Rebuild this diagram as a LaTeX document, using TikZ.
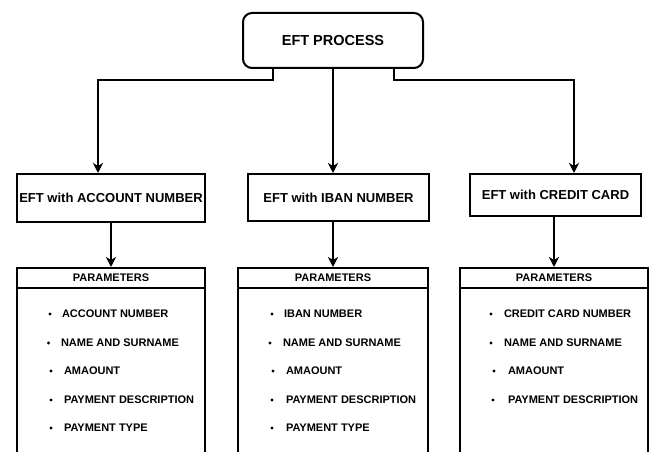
\documentclass[tikz,border=0pt]{standalone}
\usepackage{fontspec}
\setmainfont{Liberation Sans}
\usetikzlibrary{arrows.meta}
\begin{document}
\begin{tikzpicture}[x=1pt,y=-1pt,line width=2pt,
  box/.style={draw,rectangle,inner sep=0pt,anchor=north west,font=\bfseries\fontsize{13}{15}\selectfont},
  topbox/.style={box,rounded corners=9pt,font=\bfseries\fontsize{14.5}{17}\selectfont},
  pbox/.style={draw,rectangle,inner sep=0pt,anchor=north west,minimum height=250pt},
  arr/.style={-{Stealth[length=10pt,width=10pt,inset=3pt]}},
  item/.style={anchor=west,inner sep=0pt,font=\bfseries\fontsize{11}{13}\selectfont},
  phead/.style={inner sep=0pt,font=\bfseries\fontsize{11}{13}\selectfont},
  bul/.style={fill=black}]
\useasboundingbox (0,0) rectangle (649,452);
\clip (0,0) rectangle (649,452);
% top
\node[topbox,minimum width=180pt,minimum height=55pt] (top) at (242,12) {EFT PROCESS};
% middle boxes
\node[box,minimum width=188pt,minimum height=48pt] (m1) at (16,173) {EFT with ACCOUNT NUMBER};
\node[box,minimum width=181pt,minimum height=47pt] (m2) at (247,173) {EFT with IBAN NUMBER};
\node[box,minimum width=171pt,minimum height=42pt] (m3) at (469,173) {EFT with CREDIT CARD};
% parameter boxes
\node[pbox,minimum width=188pt] (p1) at (16,267) {};
\node[pbox,minimum width=190pt] (p2) at (237,267) {};
\node[pbox,minimum width=188pt] (p3) at (459,267) {};
\foreach \p in {p1,p2,p3}{
  \draw ([yshift=-21pt]\p.north west) -- ([yshift=-21pt]\p.north east);
  \node[phead] (h\p) at ([yshift=-10.5pt]\p.north) {PARAMETERS};
}
% connectors from top
\draw[arr] ([xshift=-60pt]top.south) -- ++(0,11) -| ([xshift=-13pt]m1.north);
\draw[arr] (top.south) -- (top.south |- m2.north);
\draw[arr] ([xshift=61pt]top.south) -- ++(0,11) -| ([xshift=18.5pt]m3.north);
% connectors to parameter boxes
\draw[arr] (m1.south -| p1.north) -- (p1.north);
\draw[arr] (m2.south -| p2.north) -- (p2.north);
\draw[arr] (m3.south -| p3.north) -- (p3.north);
% items column 1
\node[item] (a1) at (61,314) {ACCOUNT NUMBER};
\node[item] (a2) at (60,343) {NAME AND SURNAME};
\node[item] (a3) at (63,371) {AMAOUNT};
\node[item] (a4) at (63,400) {PAYMENT DESCRIPTION};
\node[item] (a5) at (63,428) {PAYMENT TYPE};
\foreach \n/\x in {a1/50,a2/48.5,a3/51,a4/51,a5/51}{\fill[bul] (\x,0 |- \n.west) circle (1.6pt);}
% items column 2
\node[item] (b1) at (283,314) {IBAN NUMBER};
\node[item] (b2) at (282,343) {NAME AND SURNAME};
\node[item] (b3) at (285,371) {AMAOUNT};
\node[item] (b4) at (285,400) {PAYMENT DESCRIPTION};
\node[item] (b5) at (285,428) {PAYMENT TYPE};
\foreach \n/\x in {b1/272,b2/270,b3/273,b4/272,b5/272}{\fill[bul] (\x,0 |- \n.west) circle (1.6pt);}
% items column 3
\node[item] (c1) at (503,314) {CREDIT CARD NUMBER};
\node[item] (c2) at (503,343) {NAME AND SURNAME};
\node[item] (c3) at (507,371) {AMAOUNT};
\node[item] (c4) at (507,400) {PAYMENT DESCRIPTION};
\foreach \n/\x in {c1/491,c2/491,c3/494,c4/493}{\fill[bul] (\x,0 |- \n.west) circle (1.6pt);}
\end{tikzpicture}
\end{document}
